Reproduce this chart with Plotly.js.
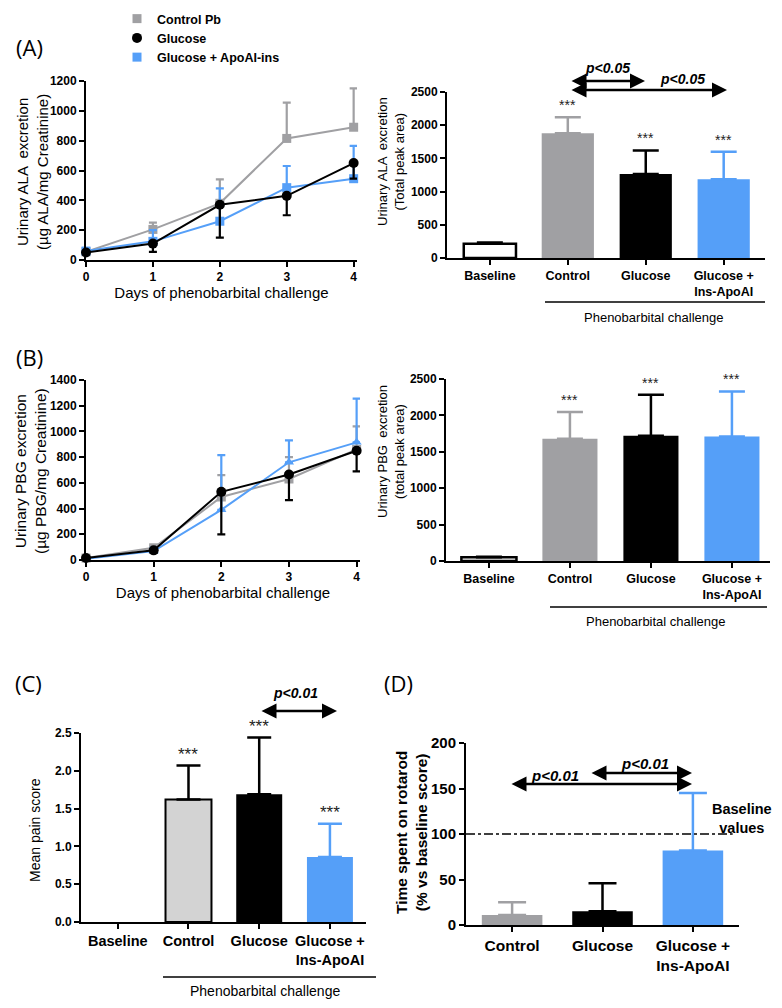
<!DOCTYPE html>
<html><head><meta charset="utf-8">
<script src="https://cdn.plot.ly/plotly-3.0.1.min.js"></script>
<style>html,body{margin:0;padding:0;background:#fff}#chart{width:782px;height:1008px}</style>
</head><body><div id="chart"></div>
<script>
// ---------- DATA ----------
const days = [0, 1, 2, 3, 4];
const seriesNames = ['Control Pb', 'Glucose', 'Glucose + ApoAI-ins'];

// Panel A left: urinary ALA (µg ALA/mg creatinine)
const alaControl    = [55, 205, 380, 815, 890];
const alaControlErr = [10, 45, 160, 240, 260];
const alaGlucose    = [50, 110, 370, 430, 650];
const alaGlucoseErr = [10, 55, 220, 130, 105];
const alaApo        = [60, 125, 260, 485, 545];
const alaApoErr     = [10, 75, 220, 145, 220];

// Panel B left: urinary PBG (µg PBG/mg creatinine)
const pbgControl    = [15, 95, 490, 630, 860];
const pbgControlErr = [5, 15, 170, 170, 180];
const pbgGlucose    = [15, 75, 530, 665, 850];
const pbgGlucoseErr = [5, 20, 330, 200, 160];
const pbgApo        = [10, 70, 390, 760, 915];
const pbgApoErr     = [5, 25, 425, 170, 340];

// Bar panels
const barCats    = ['Baseline', 'Control', 'Glucose', 'Glucose +<br>Ins-ApoAI'];
const alaArea    = [215, 1880, 1265, 1185];
const alaAreaErr = [20, 240, 355, 415];
const pbgArea    = [50, 1680, 1720, 1710];
const pbgAreaErr = [10, 365, 565, 620];
const painScore  = [0, 1.62, 1.69, 0.86];
const painErr    = [0, 0.45, 0.75, 0.44];
const rotaCats   = ['Control', 'Glucose', 'Glucose +<br>Ins-ApoAI'];
const rotarod    = [11, 15, 82];
const rotarodErr = [14, 31, 63];
const rotaBaseline = 100;

// ---------- STYLE HELPERS ----------
const W = 782, H = 1008;
const px = v => v / W;
const py = v => 1 - v / H;
const dx = (a, b) => [a / W, b / W];
const dy = (top, bottom) => [1 - bottom / H, 1 - top / H];
const FONT = 'Liberation Sans, Arial, sans-serif';
const GRAY = '#a0a0a3', BLACK = '#000000', BLUE = '#559ff8', LGRAY = '#d3d3d3';
const zeros = arr => arr.map(() => 0);

function axBase(extra) {
  return Object.assign({
    showgrid: false, zeroline: false, showline: true, linecolor: '#000', linewidth: 2,
    ticks: 'outside', ticklen: 5, tickwidth: 2, tickcolor: '#000',
    tickfont: {family: FONT, size: 12, color: '#000', weight: 'bold'}, fixedrange: true
  }, extra);
}

const traces = [];

// line panels
function lineSeries(xa, ya, y, err, color, symbol, name, up, legend, rank) {
  traces.push({type: 'scatter', mode: 'lines', x: days, y: y, xaxis: xa, yaxis: ya,
    line: {color: color, width: 2}, showlegend: false, hoverinfo: 'skip', cliponaxis: false});
  traces.push({type: 'scatter', mode: 'markers', name: name, x: days, y: y, xaxis: xa, yaxis: ya,
    marker: {color: color, symbol: symbol, size: symbol === 'circle' ? 10 : 9},
    error_y: {type: 'data', symmetric: false,
      array: up ? err : zeros(err), arrayminus: up ? zeros(err) : err,
      color: color, thickness: 2.2, width: 4},
    showlegend: legend, legendrank: rank, cliponaxis: false});
}
lineSeries('x', 'y', alaControl, alaControlErr, GRAY, 'square', seriesNames[0], true, true, 1);
lineSeries('x', 'y', alaApo, alaApoErr, BLUE, 'square', seriesNames[2], true, true, 3);
lineSeries('x', 'y', alaGlucose, alaGlucoseErr, BLACK, 'circle', seriesNames[1], false, true, 2);

lineSeries('x3', 'y3', pbgControl, pbgControlErr, GRAY, 'square', seriesNames[0], true, false, 1);
lineSeries('x3', 'y3', pbgApo, pbgApoErr, BLUE, 'triangle-up', seriesNames[2], true, false, 3);
lineSeries('x3', 'y3', pbgGlucose, pbgGlucoseErr, BLACK, 'circle', seriesNames[1], false, false, 2);

// bar panels
function barSet(xa, ya, cats, vals, errs, fills, outlines, outW, errColors, width, capW) {
  for (let i = 0; i < cats.length; i++) {
    traces.push({type: 'bar', x: [cats[i]], y: [vals[i]], xaxis: xa, yaxis: ya, width: width,
      marker: {color: fills[i], line: {color: outlines[i], width: outW[i]}},
      error_y: {type: 'data', symmetric: false, array: [errs[i]], arrayminus: [0],
        color: errColors[i], thickness: 2.5, width: capW, visible: errs[i] > 0},
      showlegend: false, cliponaxis: false});
  }
}
barSet('x2', 'y2', barCats, alaArea, alaAreaErr,
  ['#ffffff', GRAY, BLACK, BLUE], [BLACK, GRAY, BLACK, BLUE], [2.5, 0, 0, 0],
  [BLACK, GRAY, BLACK, BLUE], 0.67, 13);
barSet('x4', 'y4', barCats, pbgArea, pbgAreaErr,
  ['#ffffff', GRAY, BLACK, BLUE], [BLACK, GRAY, BLACK, BLUE], [2.5, 0, 0, 0],
  [BLACK, GRAY, BLACK, BLUE], 0.68, 13);
barSet('x5', 'y5', barCats, painScore, painErr,
  ['#ffffff', LGRAY, BLACK, BLUE], [BLACK, BLACK, BLACK, BLUE], [0, 2, 0, 0],
  [BLACK, BLACK, BLACK, BLUE], 0.65, 12);
barSet('x6', 'y6', rotaCats, rotarod, rotarodErr,
  [GRAY, BLACK, BLUE], [GRAY, BLACK, BLUE], [0, 0, 0],
  [GRAY, BLACK, BLUE], 0.67, 14);

// ---------- ANNOTATIONS ----------
const ann = [];
function txt(x, y, text, size, opts) {
  ann.push(Object.assign({xref: 'paper', yref: 'paper', x: px(x), y: py(y), text: text,
    showarrow: false, xanchor: 'center', yanchor: 'middle',
    font: {family: FONT, size: size, color: '#000'}}, opts || {}));
}
function arrow(x0, x1, y) {
  ann.push({xref: 'paper', yref: 'paper', x: px(x1), y: py(y), axref: 'pixel', ayref: 'pixel',
    ax: -(x1 - x0), ay: 0, text: '', showarrow: true, arrowhead: 2, arrowside: 'end+start',
    arrowsize: 1.2, arrowwidth: 2.5, arrowcolor: '#000'});
}
function stars(xa, ya, cats, vals, errs, idx, size, shift) {
  idx.forEach(i => ann.push({xref: xa, yref: ya, x: cats[i], y: vals[i] + errs[i], text: '***',
    showarrow: false, yanchor: 'bottom', yshift: shift,
    font: {family: FONT, size: size, color: '#222'}}));
}
// panel labels
const PL = {family: 'Open Sans, sans-serif', size: 22, color: '#000'};
txt(29, 47, '(A)', 22, {font: PL});
txt(29, 357, '(B)', 22, {font: PL});
txt(28, 683, '(C)', 22, {font: PL});
txt(399, 683, '(D)', 22, {font: PL});

// y titles
txt(32, 172, 'Urinary ALA  excretion<br>(µg ALA/mg Creatinine)', 15, {textangle: -90});
txt(391, 162, 'Urinary ALA  excretion<br>(Total peak area)', 13, {textangle: -90});
txt(30, 471, 'Urinary PBG excretion<br>(µg PBG/mg Creatinine)', 15.5, {textangle: -90});
txt(391, 452, 'Urinary PBG  excretion<br>(total peak area)', 13, {textangle: -90});
txt(35, 830, 'Mean pain score', 14, {textangle: -90});
txt(411, 833, 'Time spent on rotarod<br>(% vs baseline score)', 15.5,
  {textangle: -90, font: {family: FONT, size: 15.5, color: '#000', weight: 'bold'}});

// phenobarbital challenge
const PBF = {family: FONT, size: 13, color: '#000'};
txt(654, 317, 'Phenobarbital challenge', 13, {font: PBF});
txt(656, 621, 'Phenobarbital challenge', 13, {font: PBF});
txt(265, 991, 'Phenobarbital challenge', 14);

// p values
const PF = s => ({family: FONT, size: s, color: '#000', weight: 'bold', style: 'italic'});
arrow(570, 645, 81); arrow(570, 727, 90);
txt(607, 68, 'p<0.05', 14, {font: PF(14)});
txt(682, 79, 'p<0.05', 14, {font: PF(14)});
arrow(260, 337, 711);
txt(295, 693, 'p<0.01', 14, {font: PF(14)});
arrow(590, 692, 773); arrow(510, 692, 784);
txt(645, 763, 'p<0.01', 15, {font: PF(15)});
txt(555, 775, 'p<0.01', 15, {font: PF(15)});

txt(742, 818, 'Baseline<br>values', 14.5, {font: {family: FONT, size: 14.5, color: '#000', weight: 'bold'}});

stars('x2', 'y2', barCats, alaArea, alaAreaErr, [1, 2, 3], 14, 2);
stars('x4', 'y4', barCats, pbgArea, pbgAreaErr, [1, 2, 3], 14, 2);
stars('x5', 'y5', barCats, painScore, painErr, [1, 2, 3], 17, 0);

// ---------- SHAPES ----------
const shapes = [
  {type: 'line', xref: 'paper', yref: 'paper', x0: px(545), x1: px(765), y0: py(302), y1: py(302), line: {color: '#000', width: 1.5}},
  {type: 'line', xref: 'paper', yref: 'paper', x0: px(550), x1: px(767), y0: py(607), y1: py(607), line: {color: '#000', width: 1.5}},
  {type: 'line', xref: 'paper', yref: 'paper', x0: px(163), x1: px(376), y0: py(977), y1: py(977), line: {color: '#000', width: 1.5}},
  {type: 'line', xref: 'x6', yref: 'y6', x0: -0.51, x1: 2.44, y0: rotaBaseline, y1: rotaBaseline, line: {color: '#000', width: 1.5, dash: 'dashdot'}}
];

// ---------- LAYOUT ----------
const catFont = s => ({family: FONT, size: s, color: '#000', weight: 'bold'});
const layout = {
  width: W, height: H, margin: {l: 0, r: 0, t: 0, b: 0},
  paper_bgcolor: '#fff', plot_bgcolor: 'rgba(0,0,0,0)',
  barmode: 'overlay', showlegend: true,
  legend: {x: px(117), y: py(4), xanchor: 'left', yanchor: 'top', bgcolor: 'rgba(0,0,0,0)',
    font: {family: FONT, size: 12.5, color: '#000', weight: 'bold'}, itemwidth: 30, tracegroupgap: 0},
  xaxis: axBase({domain: dx(86, 357), range: [0, 4.05], dtick: 1, anchor: 'y',
    title: {text: 'Days of phenobarbital challenge', font: {family: FONT, size: 15, color: '#000'}, standoff: 4}}),
  yaxis: axBase({domain: dy(81, 260), range: [0, 1200], dtick: 200, anchor: 'x'}),
  xaxis2: axBase({domain: dx(447, 765), range: [-0.55, 3.53], type: 'category', anchor: 'y2', tickfont: catFont(12.5)}),
  yaxis2: axBase({domain: dy(92, 258), range: [0, 2500], dtick: 500, anchor: 'x2'}),
  xaxis3: axBase({domain: dx(86, 360), range: [0, 4.05], dtick: 1, anchor: 'y3',
    title: {text: 'Days of phenobarbital challenge', font: {family: FONT, size: 15, color: '#000'}, standoff: 4}}),
  yaxis3: axBase({domain: dy(380, 560), range: [0, 1400], dtick: 200, anchor: 'x3'}),
  xaxis4: axBase({domain: dx(446, 770), range: [-0.53, 3.47], type: 'category', anchor: 'y4', tickfont: catFont(12.5)}),
  yaxis4: axBase({domain: dy(379, 561), range: [0, 2500], dtick: 500, anchor: 'x4'}),
  xaxis5: axBase({domain: dx(81, 366), range: [-0.52, 3.51], type: 'category', anchor: 'y5', tickfont: catFont(14.5)}),
  yaxis5: axBase({domain: dy(733, 922), range: [0, 2.5], dtick: 0.5, tickformat: '.1f', anchor: 'x5'}),
  xaxis6: axBase({domain: dx(466, 739), range: [-0.51, 2.51], type: 'category', anchor: 'y6', tickfont: catFont(15.5)}),
  yaxis6: axBase({domain: dy(743, 925), range: [0, 200], dtick: 50, anchor: 'x6', tickfont: catFont(15)}),
  annotations: ann, shapes: shapes
};

Plotly.newPlot('chart', traces, layout, {displayModeBar: false, staticPlot: true});
</script></body></html>
